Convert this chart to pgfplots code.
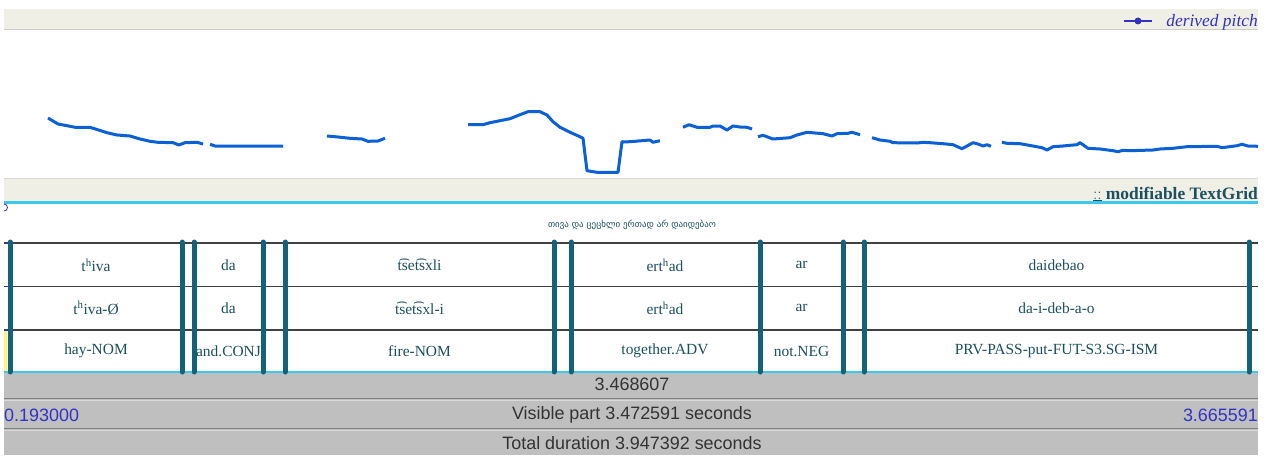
\documentclass[border=0pt]{standalone}
\usepackage{fontspec}
\setmainfont{Liberation Serif}
\newfontfamily\arial{Liberation Sans}
\newfontfamily\geo{DejaVu Sans}
\usepackage{pgfplots}
\pgfplotsset{compat=1.18}
\usepackage{pgfplotstable}

\definecolor{beige}{RGB}{240,239,230}
\definecolor{pitchblue}{RGB}{12,96,214}
\definecolor{bound}{RGB}{20,98,122}
\definecolor{tiertext}{RGB}{28,80,95}
\definecolor{cyanb}{RGB}{60,200,235}
\definecolor{numblue}{RGB}{50,50,200}
\definecolor{legblue}{RGB}{50,50,190}

% pitch track, screen x (px) vs screen y (px, downwards)
\pgfplotstableread{
x y
48 118
58 124
67 125.7
75 127.3
90 127.3
107 132.7
117 135
130 136
140 139
150 141.3
158 142.3
173 142.7
179 145
185 142.7
197 142.3
203 144
nan nan
210 144.3
215 146
283 146
nan nan
327 136
338 137
350 138.3
362 139
368 141.3
378 141
385 138.3
nan nan
468 124.7
483 124.7
490 122.7
500 120.7
510 118.7
520 114.7
528 111.7
540 111.7
547 115
553 121.7
560 127.3
570 132.3
580 136.7
583 138.3
587 170.7
597 172.3
618 172.3
622 141.7
625 142
635 141.3
650 140
653 142.3
660 140.7
nan nan
683 127.3
689 124.7
697 127.3
710 127.3
713 126
720 126
727 130
733 126
740 127
747 127.3
752 129
nan nan
758 136.7
763 135.3
773 139
790 137.7
797 135
807 132.3
823 133.7
832 136
837 133.7
848 133.3
852 132.3
860 134.7
nan nan
872 137.7
880 140
890 141.3
893 142.7
917 143
923 142.3
930 142.7
943 143.7
953 144.7
962 148.7
967 146
973 142.7
978 144
983 146
987 144.7
991 146.3
nan nan
1002 142.3
1007 143.3
1020 143.7
1033 146
1042 147.7
1047 150
1053 146.7
1063 146
1070 145.3
1077 144.7
1080 142.7
1088 148.3
1100 149
1113 150.7
1118 151.7
1123 150.3
1130 150.7
1153 150
1160 149
1173 148.3
1187 146.7
1217 146.3
1222 147.7
1237 145.7
1242 144.3
1248 146
1258 146.3
}\pitch

% interval boundaries (px)
\pgfplotstableread{
x y
10 242
10 372
nan nan
182 242
182 372
nan nan
194 242
194 372
nan nan
263 242
263 372
nan nan
285 242
285 372
nan nan
554 242
554 372
nan nan
571 242
571 372
nan nan
760 242
760 372
nan nan
843 242
843 372
nan nan
864 242
864 372
nan nan
1249 242
1249 372
}\bounds

\newcommand\tsz{\fontsize{15.5}{16}\selectfont}
\newcommand\asz{\arial\fontsize{18}{19}\selectfont}

\begin{document}
\begin{tikzpicture}
\begin{axis}[
  scale only axis,
  width=1277bp, height=455bp,
  xmin=0, xmax=1277, ymin=0, ymax=455,
  y dir=reverse,
  hide axis,
  clip=false,
  unbounded coords=jump,
]
% panels
\fill[white] (0,0) rectangle (1277,455);
\fill[beige] (4,9) rectangle (1258,29);
\draw[black!20, line width=1bp] (4,29.5) -- (1258,29.5);
\fill[beige] (4,178) rectangle (1258,201);
\draw[black!15, line width=1bp] (4,178) -- (1258,178);
\fill[black!25] (4,372) rectangle (1258,455);
\draw[black!50, line width=1.2bp] (4,398.5) -- (1258,398.5);
\draw[white!85!black, line width=1bp] (4,400) -- (1258,400);
\draw[black!50, line width=1.2bp] (4,428.5) -- (1258,428.5);
\draw[white!85!black, line width=1bp] (4,430) -- (1258,430);

% tier lines
\draw[black!75, line width=1.3bp] (4,243) -- (1258,243);
\draw[black!75, line width=1.3bp] (4,286.5) -- (1258,286.5);
\draw[black!75, line width=1.3bp] (4,330) -- (1258,330);
\draw[cyanb, line width=2.2bp] (4,202.5) -- (1258,202.5);
\draw[cyanb, line width=2.2bp] (4,372) -- (1258,372);
\fill[yellow!60!white] (4,331) rectangle (7,371);
\draw[numblue, line width=1bp] (4,243) -- (8,243) (4,286.5) -- (8,286.5) (4,330) -- (8,330);
\draw[numblue, line width=0.8bp] (4,204) arc[start angle=90, end angle=-90, radius=3.5bp];

% pitch
\addplot[pitchblue, line width=3bp, line join=round] table[x=x, y=y] {\pitch};
% boundaries
\addplot[bound, line width=5bp, line cap=round] table[x=x, y=y] {\bounds};

% legend
\draw[legblue, line width=1.2bp] (1124,21) -- (1152,21);
\fill[legblue] (1138,21) circle[radius=3.5bp];
\node[anchor=base east, inner sep=0pt, legblue] at (1258,27)
  {\fontsize{17.5}{18}\selectfont\itshape derived pitch};
\node[anchor=base east, inner sep=0pt, tiertext] at (1258,199)
  {\fontsize{17}{18}\selectfont$\underline{::}$\ \fontsize{17.5}{18}\selectfont\bfseries modifiable TextGrid};

% tier 1
\node[tiertext, inner sep=0pt] at (632,225)
  {\geo\fontsize{9}{10}\selectfont თივა და ცეცხლი ერთად არ დაიდებაო};
% tier 2
\node[tiertext, inner sep=0pt] at (96,265) {\tsz t\textsuperscript{h}iva};
\node[tiertext, inner sep=0pt] at (228.5,265) {\tsz da};
\node[tiertext, inner sep=0pt] at (419.5,265) {\tsz t͡set͡sxli};
\node[tiertext, inner sep=0pt] at (665,265) {\tsz ert\textsuperscript{h}ad};
\node[tiertext, inner sep=0pt] at (801.5,265) {\tsz ar};
\node[tiertext, inner sep=0pt] at (1056.5,265) {\tsz daidebao};
% tier 3
\node[tiertext, inner sep=0pt] at (96,308) {\tsz t\textsuperscript{h}iva-Ø};
\node[tiertext, inner sep=0pt] at (228.5,308) {\tsz da};
\node[tiertext, inner sep=0pt] at (419.5,308) {\tsz t͡set͡sxl-i};
\node[tiertext, inner sep=0pt] at (665,308) {\tsz ert\textsuperscript{h}ad};
\node[tiertext, inner sep=0pt] at (801.5,308) {\tsz ar};
\node[tiertext, inner sep=0pt] at (1056.5,308) {\tsz da-i-deb-a-o};
% tier 4
\node[tiertext, inner sep=0pt] at (96,351) {\tsz hay-NOM};
\node[tiertext, inner sep=0pt] at (228.5,351) {\tsz and.CONJ};
\node[tiertext, inner sep=0pt] at (419.5,351) {\tsz fire-NOM};
\node[tiertext, inner sep=0pt] at (665,351) {\tsz together.ADV};
\node[tiertext, inner sep=0pt] at (801.5,351) {\tsz not.NEG};
\node[tiertext, inner sep=0pt] at (1056.5,351) {\tsz PRV-PASS-put-FUT-S3.SG-ISM};

% bottom bar
\node[black!80, inner sep=0pt] at (632,384) {\asz 3.468607};
\node[numblue, anchor=west, inner sep=0pt] at (4,415) {\asz 0.193000};
\node[black!80, inner sep=0pt] at (632,415) {\asz Visible part 3.472591 seconds};
\node[numblue, anchor=east, inner sep=0pt] at (1258,415) {\asz 3.665591};
\node[black!80, inner sep=0pt] at (632,443) {\asz Total duration 3.947392 seconds};
\end{axis}
\end{tikzpicture}
\end{document}
